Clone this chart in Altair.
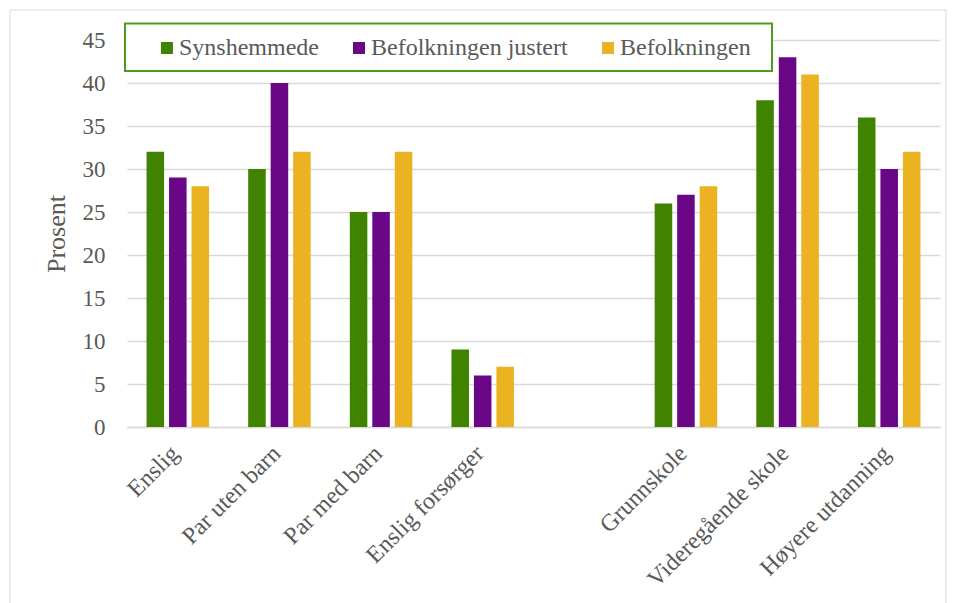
import altair as alt
import pandas as pd

categories = ["Enslig", "Par uten barn", "Par med barn", "Enslig forsørger", " ",
              "Grunnskole", "Videregående skole", "Høyere utdanning"]
series = ["Synshemmede", "Befolkningen justert", "Befolkningen"]
synshemmede = [32, 30, 25, 9, None, 26, 38, 36]
befolkningen_justert = [29, 40, 25, 6, None, 27, 43, 30]
befolkningen = [28, 32, 32, 7, None, 28, 41, 32]
colors = ["#3F8300", "#6A0787", "#EBB321"]
y_ticks = [0, 5, 10, 15, 20, 25, 30, 35, 40, 45]
title_text = "etter husholdningstype og høyeste fullførte utdanning. 2017. Prosent"

rows = []
for s, vals in zip(series, [synshemmede, befolkningen_justert, befolkningen]):
    for c, v in zip(categories, vals):
        if v is not None:
            rows.append({"kategori": c, "serie": s, "verdi": v})
df = pd.DataFrame(rows)

FONT = "Liberation Serif"
GRAY = "#595959"
GRID = "#D9D9D9"

bars = alt.Chart(df).mark_bar().encode(
    x=alt.X("kategori:N", sort=categories,
            scale=alt.Scale(domain=categories, paddingInner=0.336, paddingOuter=0.168),
            axis=alt.Axis(title=None, labelAngle=-45, labelFont=FONT, labelFontSize=24,
                          labelColor=GRAY, ticks=False, domainColor=GRID, domainWidth=1.5,
                          labelPadding=14, labelOffset=-11, labelLimit=400,
                          labelAlign="right", labelBaseline="top")),
    xOffset=alt.XOffset("serie:N", sort=series,
                        scale=alt.Scale(domain=series, paddingInner=0.22, paddingOuter=0.11)),
    y=alt.Y("verdi:Q", scale=alt.Scale(domain=[0, 45], nice=False),
            axis=alt.Axis(title="Prosent", values=y_ticks, labelFont=FONT, labelFontSize=23,
                          labelColor=GRAY, ticks=False, domain=False, gridColor=GRID,
                          gridWidth=1.5, labelPadding=22, titleFont=FONT, titleFontSize=26,
                          titleFontWeight="normal", titleColor=GRAY, titlePadding=13)),
    color=alt.Color("serie:N", sort=series,
                    scale=alt.Scale(domain=series, range=colors),
                    legend=alt.Legend(title=None, orient="none", direction="horizontal",
                                      legendX=28, legendY=-4, symbolType="square",
                                      symbolSize=144, symbolStrokeWidth=0, labelFont=FONT,
                                      labelFontSize=24, labelColor=GRAY, labelOffset=0,
                                      labelLimit=400, columnPadding=28, padding=0,
                                      labelFontWeight="normal")),
)

one = pd.DataFrame({"a": [0]})

border = alt.Chart(one).mark_rect(fill="transparent", stroke=GRID, strokeWidth=1).encode(
    x=alt.value(-117), x2=alt.value(819), y=alt.value(-30), y2=alt.value(600)
)

legend_box = alt.Chart(one).mark_rect(fill="white", stroke="#4E9A1E", strokeWidth=2).encode(
    x=alt.value(-2), x2=alt.value(645), y=alt.value(-16.5), y2=alt.value(31)
)

title = alt.Chart(pd.DataFrame({"t": [title_text]})).mark_text(
    font="Liberation Sans", fontSize=15, fontWeight="bold", color="black", align="center"
).encode(x=alt.value(431), y=alt.value(-40), text="t:N")

chart = alt.layer(border, bars, legend_box, title).properties(
    width=813, height=387,
    autosize=alt.AutoSizeParams(type="none"),
    padding={"left": 119, "right": 8, "top": 32, "bottom": 176},
).configure(
    font=FONT,
    style={"guide-label": {"font": FONT, "fontSize": 24, "fill": GRAY}},
).configure_view(stroke=None).configure_legend(labelFont=FONT, labelFontSize=24)

chart.save("out.html", embed_options={"renderer": "svg", "actions": False})
